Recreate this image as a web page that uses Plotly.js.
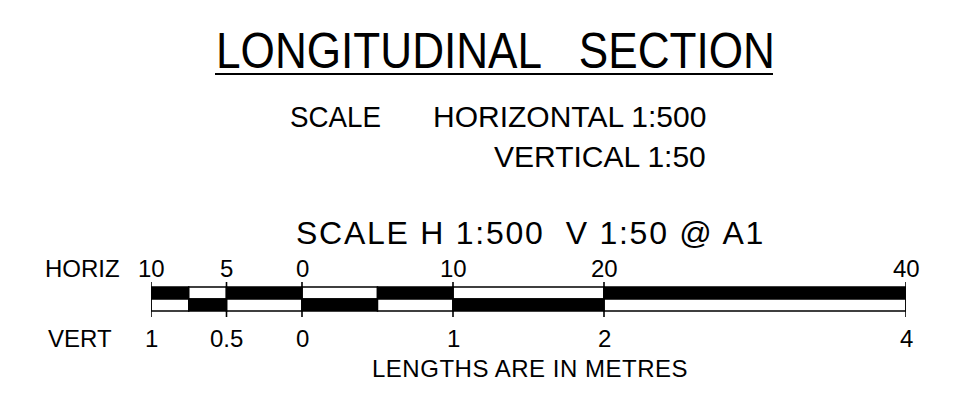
<!DOCTYPE html>
<html>
<head>
<meta charset="utf-8">
<script src="https://cdn.plot.ly/plotly-3.0.1.min.js"></script>
<style>html,body{margin:0;padding:0;background:#fff;}#chart{width:955px;height:405px;}</style>
</head>
<body>
<div id="chart"></div>
<script>
// ---- data ----
const horizTicks = [-10, -5, 0, 10, 20, 40];          // positions in horizontal metres
const horizLabels = ['10', '5', '0', '10', '20', '40'];
const vertLabels = ['1', '0.5', '0', '1', '2', '4'];
const segStarts = [-10, -7.5, -5, 0, 5, 10, 20];
const segEnds   = [-7.5, -5, 0, 5, 10, 20, 40];
const topRowBlack = [true, false, true, false, true, false, true];
const titleText = 'LONGITUDINAL&nbsp;&nbsp;&nbsp;SECTION';
const scaleWord = 'SCALE';
const scaleLine1 = 'HORIZONTAL 1:500';
const scaleLine2 = 'VERTICAL 1:50';
const barTitle = 'SCALE H 1:500&nbsp;&nbsp;V 1:50 @ A1';
const noteText = 'LENGTHS ARE IN METRES';

// ---- layout helpers ----
const W = 955, H = 405, ML = 151, MR = 49;
const px = p => (p - ML) / (W - ML - MR);   // pixel x -> paper x
const widths = segStarts.map((s, i) => segEnds[i] - s);
const FONT = 'Liberation Sans, Arial, sans-serif';

const rowTop = { y: 293, h: 12 }, rowBot = { y: 305, h: 12 };

const topBar = {
  type: 'bar', orientation: 'h',
  base: segStarts, x: widths, y: segStarts.map(() => rowTop.y), width: rowTop.h,
  marker: { color: topRowBlack.map(b => b ? '#000' : '#fff'), line: { color: '#000', width: 1.5 } },
  hoverinfo: 'skip', showlegend: false
};
const botBar = {
  type: 'bar', orientation: 'h',
  base: segStarts, x: widths, y: segStarts.map(() => rowBot.y), width: rowBot.h,
  marker: { color: topRowBlack.map(b => b ? '#fff' : '#000'), line: { color: '#000', width: 1.5 } },
  hoverinfo: 'skip', showlegend: false
};
const tx = [], ty = [];
horizTicks.forEach(t => { tx.push(t, t, null); ty.push(282, 317, null); });
const tickLines = {
  type: 'scatter', mode: 'lines', x: tx, y: ty,
  line: { color: '#000', width: 1.6 }, hoverinfo: 'skip', showlegend: false
};

const ann = [];
const fits = [];   // [annotation index, left px, right px, mode]
function add(text, x, y, size, xanchor, fit) {
  if (fit) fits.push([ann.length].concat(fit));
  ann.push({ text, x, y, xref: 'paper', yref: 'y', xanchor: xanchor || 'center', yanchor: 'middle',
    showarrow: false, font: { family: FONT, size, color: '#000' } });
}
add(titleText, px(495), 51, 50, 'center', [216, 775, 'scale']);
add(scaleWord, px(292), 116, 30, 'left', [290, 381, 'scale']);
add(scaleLine1, px(708), 116, 30, 'right');
add(scaleLine2, px(708), 156, 30, 'right');
add(barTitle, px(530), 233, 32, 'center', [296, 765, 'space']);
add('HORIZ', px(43), 268, 24, 'left');
add('VERT', px(46), 338, 24, 'left');
horizTicks.forEach((t, i) => {
  ann.push({ text: horizLabels[i], x: t, y: 268, xref: 'x', yref: 'y', xanchor: 'center', yanchor: 'middle',
    showarrow: false, font: { family: FONT, size: 24, color: '#000' } });
  ann.push({ text: vertLabels[i], x: t, y: 338, xref: 'x', yref: 'y', xanchor: 'center', yanchor: 'middle',
    showarrow: false, font: { family: FONT, size: 24, color: '#000' } });
});
add(noteText, px(530), 368, 24, 'center', [372, 688, 'space']);

const layout = {
  width: W, height: H,
  margin: { l: ML, r: MR, t: 0, b: 0, pad: 0 },
  paper_bgcolor: '#fff', plot_bgcolor: '#fff',
  barmode: 'overlay',
  xaxis: { range: [-10, 40], visible: false, fixedrange: true },
  yaxis: { range: [H, 0], visible: false, fixedrange: true },
  annotations: ann,
  shapes: [{ type: 'line', xref: 'paper', yref: 'y', x0: px(215), x1: px(773), y0: 74, y1: 74,
    line: { color: '#000', width: 2 } }]
};
Plotly.newPlot('chart', [topBar, botBar, tickLines], layout, { staticPlot: true, displayModeBar: false })
.then(gd => {
  const nodes = gd.querySelectorAll('.annotation');
  fits.forEach(([idx, L, R, mode]) => {
    const g = Array.from(nodes).find(n => +n.getAttribute('data-index') === idx) || nodes[idx];
    if (!g) return;
    const el = g.querySelector('.annotation-text');
    if (!el) return;
    if (mode === 'space') {
      const r0 = el.getBoundingClientRect();
      const n = el.textContent.length;
      el.style.letterSpacing = ((R - L) - r0.width) / n + 'px';
    }
    const r = el.getBoundingClientRect();
    const bb = el.getBBox();
    const off = r.left - bb.x;
    const s = mode === 'scale' ? (R - L) / r.width : 1;
    el.setAttribute('transform', `translate(${L - off},0) scale(${s},1) translate(${-bb.x},0)`);
  });
});
</script>
</body>
</html>
